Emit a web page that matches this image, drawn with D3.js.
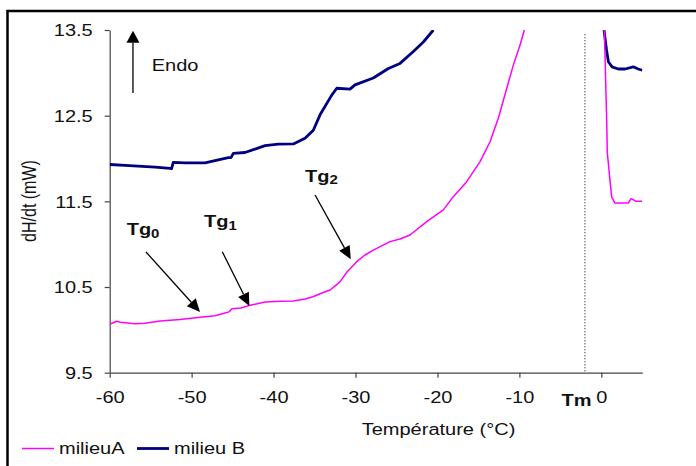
<!DOCTYPE html>
<html><head><meta charset="utf-8">
<script src="https://cdn.jsdelivr.net/npm/d3@7/dist/d3.min.js"></script>
<style>
body{margin:0;background:#fff}
svg{display:block}
text{font-family:"Liberation Sans",Arial,sans-serif;fill:#111}
</style>
</head><body>
<svg id="c" width="696" height="466"></svg>
<script>
// ---- data ----
const xTicks = [-60, -50, -40, -30, -20, -10, 0];
const yTicks = [9.5, 10.5, 11.5, 12.5, 13.5];
const seriesNames = ["milieuA", "milieu B"];
const seriesColors = ["#ff00ff", "#000080"];

// milieuA (magenta)
const tempA = [-60, -59.15, -58.7, -56.9, -55.7, -53.86, -51.4, -48.98, -47.15, -46.05, -45.44, -45.07, -44.0, -42.88, -41.04, -39.2, -37.6, -36.16, -35.19, -34.1, -33.1, -31.9, -31.04, -29.85, -28.84, -27.83, -25.79, -24.57, -23.35, -21.31, -19.28, -18.06, -16.43, -14.8, -13.58, -12.57, -11.54, -10.74, -9.92, -9.4,
  -4, 0.37, 0.66, 0.73, 1.05, 1.27, 1.67, 3.3, 3.6, 3.9, 4.24, 5.0];
const valA = [10.065, 10.10, 10.09, 10.07, 10.077, 10.104, 10.12, 10.147, 10.165, 10.193, 10.21, 10.247, 10.255, 10.287, 10.325, 10.333, 10.337, 10.36, 10.387, 10.43, 10.465, 10.56, 10.675, 10.796, 10.874, 10.93, 11.03, 11.06, 11.107, 11.263, 11.40, 11.555, 11.73, 11.963, 12.196, 12.47, 12.82, 13.09, 13.325, 13.5,
  null, 13.5, 12.42, 12.07, 11.75, 11.55, 11.48, 11.48, 11.53, 11.52, 11.5, 11.5];

// milieu B (navy)
const tempB = [-60, -58.13, -54.47, -52.64, -52.46, -52.24, -50.81, -48.37, -47.15, -45.52, -45.2, -44.91, -43.49, -41.04, -39.42, -37.59, -36.16, -35.15, -34.33, -32.9, -32.29, -30.67, -30.06, -27.83, -25.99, -24.57, -22.94, -21.72, -20.5,
  -10, 0.33, 0.63, 0.86, 1.31, 2.07, 2.9, 3.9, 4.5, 5.0];
const valB = [11.93, 11.92, 11.90, 11.886, 11.88, 11.956, 11.95, 11.95, 11.975, 12.01, 12.01, 12.06, 12.07, 12.15, 12.167, 12.17, 12.236, 12.33, 12.51, 12.74, 12.82, 12.81, 12.86, 12.94, 13.05, 13.11, 13.25, 13.36, 13.5,
  null, 13.5, 13.27, 13.13, 13.07, 13.045, 13.045, 13.07, 13.045, 13.03];

const tmTemp = -2;
// annotations: label, label position (temp, value), arrow start, arrow tip
const tgLabels = ["Tg", "Tg", "Tg"];
const tgSubs = ["0", "1", "2"];
const tgLabelPos = [[-57.93, 11.107], [-48.49, 11.2], [-36.16, 11.73]];
const tgArrowFrom = [[-55.57, 10.909], [-46.26, 10.912], [-34.94, 11.574]];
const tgArrowTo = [[-48.98, 10.209], [-42.96, 10.279], [-30.58, 10.824]];
const endoArrow = [[-57.16, 12.765], [-57.16, 13.49]];
const endoLabelPos = [-54.87, 13.025];

// ---- drawing ----
const svg = d3.select("#c");
const SX = 1.25; // horizontal text stretch of the reference
const x = d3.scaleLinear([-60, 5], [109.7, 642.3]);
const y = d3.scaleLinear([9.5, 13.5], [372.7, 30]);

// outer frame (left & top edges visible)
svg.append("rect").attr("x", 7.5).attr("y", 11).attr("width", 720).attr("height", 480)
  .attr("fill", "none").attr("stroke", "#000").attr("stroke-width", 2.5);

svg.append("clipPath").attr("id", "clip").append("rect")
  .attr("x", x(-60)).attr("y", y(13.5)).attr("width", x(5) - x(-60)).attr("height", y(9.5) - y(13.5));

// y axis
const gy = svg.append("g").attr("transform", `translate(${x(-60)},0)`)
  .call(d3.axisLeft(y).tickValues(yTicks).tickFormat(d => d.toFixed(1)).tickSize(5).tickSizeOuter(0));
// x axis
const gx = svg.append("g").attr("transform", `translate(0,${y(9.5)})`)
  .call(d3.axisBottom(x).tickValues(xTicks).tickFormat(d => String(d)).tickSize(5).tickSizeOuter(0));
[gx, gy].forEach(g => {
  g.select(".domain").attr("stroke", "#444").attr("stroke-width", 1.2);
  g.selectAll(".tick line").attr("stroke", "#444").attr("stroke-width", 1.2);
  g.selectAll(".tick text").attr("font-size", 16).attr("fill", "#111")
    .style("font-family", '"Liberation Sans",Arial,sans-serif');
});
gy.selectAll(".tick text").attr("x", 0).attr("dy", null).attr("y", 0)
  .attr("transform", `translate(-17,5.8) scale(${SX},1)`);
gx.selectAll(".tick text").attr("y", 0).attr("dy", null)
  .attr("transform", `translate(0,30) scale(${SX},1)`);

// Tm dotted line
svg.append("line").attr("x1", x(tmTemp)).attr("x2", x(tmTemp))
  .attr("y1", y(13.45)).attr("y2", y(9.5))
  .attr("stroke", "#000").attr("stroke-width", 1).attr("stroke-dasharray", "1,2");

// series lines
const line = d3.line().defined(d => d[1] != null).x(d => x(d[0])).y(d => y(d[1]));
const dataA = tempA.map((t, i) => [t, valA[i]]);
const dataB = tempB.map((t, i) => [t, valB[i]]);
const plot = svg.append("g").attr("clip-path", "url(#clip)");
plot.append("path").datum(dataB).attr("d", line).attr("fill", "none")
  .attr("stroke", seriesColors[1]).attr("stroke-width", 2.8).attr("stroke-linejoin", "round");
plot.append("path").datum(dataA).attr("d", line).attr("fill", "none")
  .attr("stroke", seriesColors[0]).attr("stroke-width", 1.5).attr("stroke-linejoin", "round");

// arrow helper
function arrow(p0, p1, len, wid) {
  const x0 = x(p0[0]), y0 = y(p0[1]), x1 = x(p1[0]), y1 = y(p1[1]);
  const dx = x1 - x0, dy = y1 - y0, L = Math.hypot(dx, dy), ux = dx / L, uy = dy / L;
  const bx = x1 - ux * len, by = y1 - uy * len;
  svg.append("line").attr("x1", x0).attr("y1", y0).attr("x2", bx).attr("y2", by)
    .attr("stroke", "#000").attr("stroke-width", 1.3);
  svg.append("path").attr("d", `M${x1},${y1}L${bx - uy * wid / 2},${by + ux * wid / 2}L${bx + uy * wid / 2},${by - ux * wid / 2}Z`)
    .attr("fill", "#000");
}
tgArrowFrom.forEach((p, i) => arrow(p, tgArrowTo[i], 13, 12));
arrow(endoArrow[0], endoArrow[1], 12, 13);

// Tg labels
tgLabels.forEach((lab, i) => {
  const t = svg.append("text").attr("font-weight", "bold").attr("font-size", 16)
    .attr("transform", `translate(${x(tgLabelPos[i][0])},${y(tgLabelPos[i][1])}) scale(${SX},1)`);
  t.append("tspan").text(lab);
  t.append("tspan").attr("font-size", 12).attr("dy", 2.5).text(tgSubs[i]);
});

// Endo label
svg.append("text").attr("font-size", 16)
  .attr("transform", `translate(${x(endoLabelPos[0])},${y(endoLabelPos[1])}) scale(${SX},1)`).text("Endo");

// Tm label
svg.append("text").attr("font-size", 16).attr("font-weight", "bold")
  .attr("transform", `translate(561.5,405.5) scale(${SX},1)`).text("Tm");

// axis titles
svg.append("text").attr("font-size", 16).attr("text-anchor", "middle")
  .attr("transform", `translate(438.5,435) scale(${SX},1)`).text("Température (°C)");
svg.append("text").attr("font-size", 16).attr("text-anchor", "middle")
  .attr("transform", `translate(36,201) rotate(-90) scale(1,${SX})`).text("dH/dt (mW)");

// legend
const legX = [22, 137];
seriesNames.forEach((n, i) => {
  svg.append("line").attr("x1", legX[i]).attr("x2", legX[i] + 32).attr("y1", 448.5).attr("y2", 448.5)
    .attr("stroke", seriesColors[i]).attr("stroke-width", i === 0 ? 1.5 : 2.8);
  svg.append("text").attr("font-size", 16)
    .attr("transform", `translate(${legX[i] + 37},453.5) scale(${SX},1)`).text(n);
});
</script>
</body></html>
